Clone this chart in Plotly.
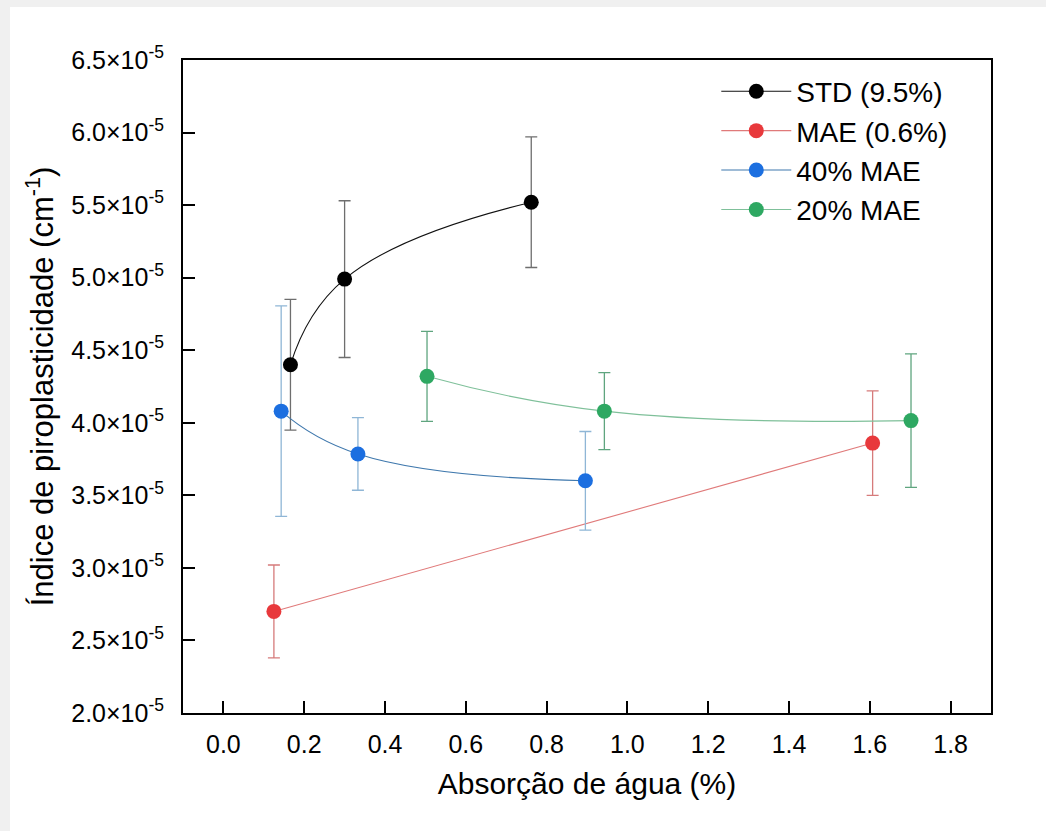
import plotly.graph_objects as go

# ---- data (values in cm^-1) ----
std_x = [0.166, 0.300, 0.762]
std_y = [4.40e-5, 4.99e-5, 5.52e-5]
std_err = [0.45e-5, 0.54e-5, 0.45e-5]

mae_x = [0.125, 1.607]
mae_y = [2.70e-5, 3.86e-5]
mae_err = [0.32e-5, 0.36e-5]

m40_x = [0.143, 0.333, 0.896]
m40_y = [4.08e-5, 3.785e-5, 3.60e-5]
m40_err = [0.725e-5, 0.25e-5, 0.34e-5]

m20_x = [0.504, 0.943, 1.702]
m20_y = [4.32e-5, 4.08e-5, 4.015e-5]
m20_err = [0.31e-5, 0.265e-5, 0.46e-5]

names = ["STD (9.5%)", "MAE (0.6%)", "40% MAE", "20% MAE"]
y_tickvals = [2.0e-5, 2.5e-5, 3.0e-5, 3.5e-5, 4.0e-5, 4.5e-5, 5.0e-5, 5.5e-5, 6.0e-5, 6.5e-5]
y_ticktext = ["2.0", "2.5", "3.0", "3.5", "4.0", "4.5", "5.0", "5.5", "6.0", "6.5"]
x_tickvals = [0.0, 0.2, 0.4, 0.6, 0.8, 1.0, 1.2, 1.4, 1.6, 1.8]

FONT = "Liberation Sans, Arial, sans-serif"

series = [
    (std_x, std_y, std_err, names[0], "#000000", "#111111", "#6e6e6e", "spline"),
    (mae_x, mae_y, mae_err, names[1], "#e8393c", "#e07a7a", "#d67b7b", "linear"),
    (m40_x, m40_y, m40_err, names[2], "#1c6fe0", "#3f78ad", "#8fb6d6", "spline"),
    (m20_x, m20_y, m20_err, names[3], "#2ea862", "#7fc09a", "#5fa57f", "spline"),
]

fig = go.Figure()
for xs, ys, es, nm, mc, lc, ec, shape in series:
    fig.add_trace(go.Scatter(
        x=xs, y=ys, name=nm, mode="lines+markers",
        line=dict(color=lc, width=1.1, shape=shape, smoothing=1.3),
        marker=dict(color=mc, size=15, line=dict(width=0)),
        error_y=dict(type="data", array=es, visible=True, color=ec, thickness=1.3, width=6),
        legendgroup=nm,
    ))

fig.update_layout(
    width=1046, height=831,
    margin=dict(l=183, r=55, t=60, b=118),
    paper_bgcolor="#f0f0f0",
    plot_bgcolor="white",
    font=dict(family=FONT, color="black", size=25),
    showlegend=True,
    legend=dict(
        x=0.66, y=0.99, xanchor="left", yanchor="top",
        bgcolor="rgba(0,0,0,0)", font=dict(size=28, family=FONT),
        itemwidth=70, tracegroupgap=0,
    ),
    shapes=[dict(
        type="rect", xref="paper", yref="paper", layer="below",
        x0=(10 - 183) / 808, x1=(1046 - 183) / 808,
        y0=(712.7 - 831) / 652.7, y1=(712.7 - 7) / 652.7,
        fillcolor="white", line=dict(width=0),
    )],
)

fig.update_xaxes(
    range=[-0.1, 1.9], tickvals=x_tickvals, tickformat=".1f",
    ticks="inside", ticklen=12, tickwidth=2, tickcolor="black",
    showline=True, linewidth=2, linecolor="black", mirror=True,
    showgrid=False, zeroline=False,
    tickfont=dict(size=25, family=FONT), ticklabelstandoff=8,
    title=dict(text="Absorção de água (%)", font=dict(size=30, family=FONT), standoff=16),
)
fig.update_yaxes(
    range=[2.0e-5, 6.5e-5], tickvals=y_tickvals,
    ticktext=[t + "×10<sup>-5</sup>" for t in y_ticktext],
    ticks="inside", ticklen=12, tickwidth=2, tickcolor="black",
    showline=True, linewidth=2, linecolor="black", mirror=True,
    showgrid=False, zeroline=False,
    tickfont=dict(size=25, family=FONT), ticklabelstandoff=12,
    title=dict(text="Índice de piroplasticidade (cm<sup>-1</sup>)", font=dict(size=31, family=FONT), standoff=8),
)

fig.write_html("out.html")
